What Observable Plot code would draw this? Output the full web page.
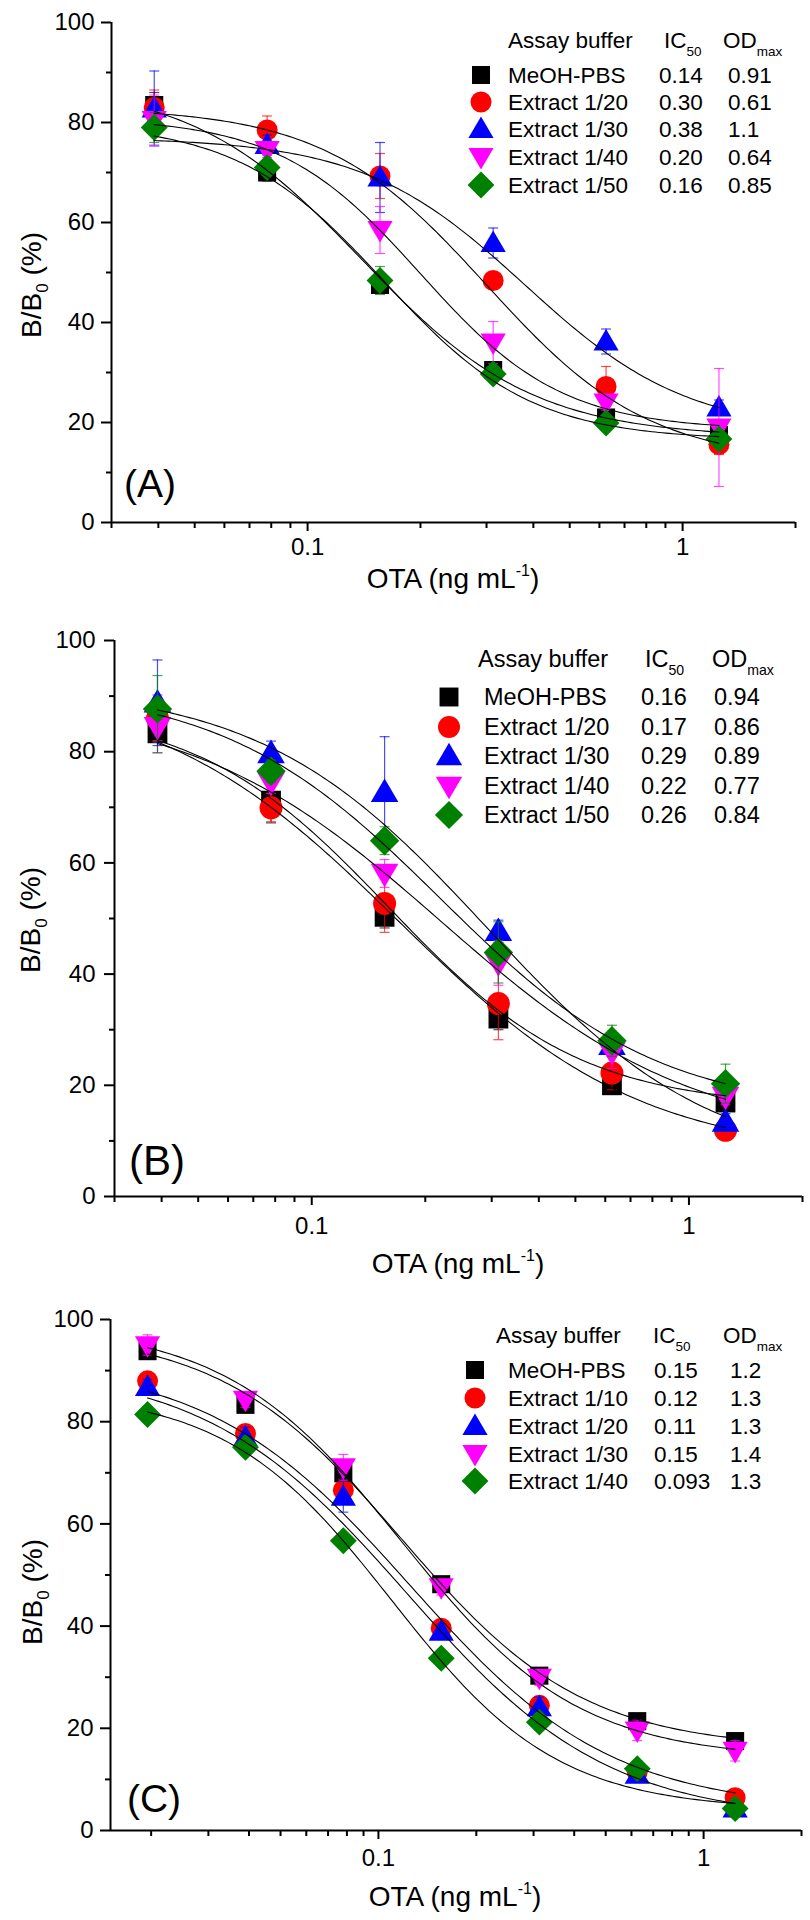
<!DOCTYPE html>
<html>
<head>
<meta charset="utf-8">
<script src="https://cdn.jsdelivr.net/npm/d3@7"></script>
<script src="https://cdn.jsdelivr.net/npm/@observablehq/plot@0.6"></script>
<style>
  html, body { margin: 0; padding: 0; background: #ffffff; }
  #fig { position: relative; width: 810px; height: 1920px; overflow: hidden; background: #ffffff; }
  .panel { position: absolute; left: 0; }
  #overlay { position: absolute; left: 0; top: 0; }
</style>
</head>
<body>
<div id="fig"></div>
<script>
const FONT = '"Liberation Sans", Arial, Helvetica, sans-serif';

// ---------- shared series styling ----------
const seriesColors = ["#000000", "#ff0000", "#0000ff", "#ff00ff", "#008000"];
const seriesSymbols = ["square", "circle", "triangle", "triangleDown", "diamond"];

// ---------- Panel A ----------
const concA = [0.039, 0.078, 0.156, 0.3125, 0.625, 1.25];
const buffersA = ["MeOH-PBS", "Extract 1/20", "Extract 1/30", "Extract 1/40", "Extract 1/50"];
const ic50A = ["0.14", "0.30", "0.38", "0.20", "0.16"];
const odmaxA = ["0.91", "0.61", "1.1", "0.64", "0.85"];
const meansA = [
  [83.5, 70.0, 47.5, 30.5, 21.0, 17.5],
  [83.0, 78.5, 69.3, 48.4, 27.2, 15.6],
  [82.8, 75.5, 69.0, 55.9, 36.2, 23.0],
  [80.5, 74.5, 58.5, 36.0, 24.0, 19.0],
  [79.0, 71.0, 48.4, 29.7, 19.9, 16.7]
];
const errorsA = [
  [2.5, 1.7, 1.5, 1.5, 1.5, 1.5],
  [3.5, 2.8, 4.5, 1.0, 4.0, 2.0],
  [7.5, 2.0, 7.0, 3.0, 2.5, 1.5],
  [5.0, 1.5, 4.7, 4.2, 1.5, 11.8],
  [3.0, 1.5, 2.8, 1.5, 1.5, 1.2]
];
// fitted 4-parameter logistic curves: [top, bottom, midpoint, slope]
const fitA = [
  [88, 17, 0.14, 1.9],
  [83, 12, 0.30, 2.0],
  [77, 18, 0.38, 2.0],
  [81, 18.5, 0.20, 2.3],
  [80, 16.5, 0.16, 2.2]
];

// ---------- Panel B ----------
const concB = [0.039, 0.078, 0.156, 0.3125, 0.625, 1.25];
const buffersB = ["MeOH-PBS", "Extract 1/20", "Extract 1/30", "Extract 1/40", "Extract 1/50"];
const ic50B = ["0.16", "0.17", "0.29", "0.22", "0.26"];
const odmaxB = ["0.94", "0.86", "0.89", "0.77", "0.84"];
const meansB = [
  [83.3, 71.2, 50.3, 32.0, 20.0, 16.9],
  [86.0, 69.9, 52.7, 34.7, 22.2, 11.9],
  [88.8, 79.7, 72.7, 47.7, 27.2, 13.4],
  [84.5, 74.5, 58.1, 42.0, 26.0, 18.0],
  [87.7, 76.5, 64.0, 43.9, 28.0, 20.3]
];
const errorsB = [
  [3.5, 4.0, 2.0, 2.0, 1.5, 1.5],
  [4.2, 2.5, 5.2, 6.5, 3.0, 1.0],
  [7.7, 2.2, 10.0, 2.0, 1.5, 1.5],
  [2.5, 2.0, 2.5, 4.0, 3.0, 1.5],
  [6.0, 2.0, 2.5, 5.5, 2.8, 3.5]
];
const fitB = [
  [88, 16, 0.16, 1.7],
  [92, 7, 0.17, 1.35],
  [92, 5, 0.29, 1.45],
  [89, 10, 0.22, 1.3],
  [92, 15, 0.22, 1.5]
];

// ---------- Panel C ----------
const concC = [0.0195, 0.039, 0.078, 0.156, 0.3125, 0.625, 1.25];
const buffersC = ["MeOH-PBS", "Extract 1/10", "Extract 1/20", "Extract 1/30", "Extract 1/40"];
const ic50C = ["0.15", "0.12", "0.11", "0.15", "0.093"];
const odmaxC = ["1.2", "1.3", "1.3", "1.4", "1.3"];
const meansC = [
  [93.8, 83.3, 69.9, 48.2, 30.3, 21.4, 17.5],
  [88.0, 77.7, 66.6, 39.6, 24.5, 11.5, 6.4],
  [86.8, 76.9, 65.3, 38.9, 24.1, 10.9, 4.3],
  [95.0, 84.3, 71.1, 47.6, 29.9, 19.6, 15.6],
  [81.4, 75.0, 56.7, 33.7, 21.2, 12.1, 4.3]
];
const errorsC = [
  [1.2, 1.5, 1.5, 1.5, 1.2, 1.2, 1.2],
  [1.5, 1.5, 1.5, 1.5, 1.5, 1.5, 1.2],
  [1.5, 2.0, 3.0, 1.5, 2.0, 1.5, 1.2],
  [2.0, 1.5, 2.5, 1.5, 1.5, 2.0, 2.0],
  [1.5, 1.5, 1.5, 1.5, 1.5, 1.5, 1.2]
];
const fitC = [
  [98, 16, 0.118, 1.55],
  [92, 4, 0.125, 1.4],
  [91, 2, 0.122, 1.4],
  [99, 14, 0.118, 1.6],
  [86, 4, 0.11, 1.7]
];

// ---------- axis ticks ----------
const yMajor = [0, 20, 40, 60, 80, 100];
const yMinor = [10, 30, 50, 70, 90];
const xMajor = [0.1, 1];
const xMinorAB = [0.03, 0.04, 0.05, 0.06, 0.07, 0.08, 0.09, 0.2, 0.3, 0.4, 0.5, 0.6, 0.7, 0.8, 0.9, 2];
const xMinorC = [0.02, 0.03, 0.04, 0.05, 0.06, 0.07, 0.08, 0.09, 0.2, 0.3, 0.4, 0.5, 0.6, 0.7, 0.8, 0.9, 2];

// ---------- symbols (size = pi r^2 from Plot) ----------
const SYM = {
  square: { draw(c, s) { const r = Math.sqrt(s / Math.PI), h = 0.86 * r; c.moveTo(-h, -h); c.lineTo(h, -h); c.lineTo(h, h); c.lineTo(-h, h); c.closePath(); } },
  circle: { draw(c, s) { const r = Math.sqrt(s / Math.PI); c.moveTo(r, 0); c.arc(0, 0, r, 0, 2 * Math.PI); c.closePath(); } },
  triangle: { draw(c, s) { const r = Math.sqrt(s / Math.PI); c.moveTo(0, -1.2 * r); c.lineTo(1.2 * r, 0.85 * r); c.lineTo(-1.2 * r, 0.85 * r); c.closePath(); } },
  triangleDown: { draw(c, s) { const r = Math.sqrt(s / Math.PI); c.moveTo(0, 1.2 * r); c.lineTo(1.2 * r, -0.85 * r); c.lineTo(-1.2 * r, -0.85 * r); c.closePath(); } },
  diamond: { draw(c, s) { const r = Math.sqrt(s / Math.PI), d = 1.28 * r; c.moveTo(0, -d); c.lineTo(d, 0); c.lineTo(0, d); c.lineTo(-d, 0); c.closePath(); } }
};
const CAP = { draw(c) { c.moveTo(-5, 0); c.lineTo(5, 0); } };

function fitCurve(xs, p) {
  const [top, bottom, mid, slope] = p;
  const x0 = xs[0], x1 = xs[xs.length - 1], n = 160;
  return d3.range(n + 1).map(i => {
    const x = x0 * Math.pow(x1 / x0, i / n);
    return { x, y: bottom + (top - bottom) / (1 + Math.pow(x / mid, slope)) };
  });
}

function makePanel(cfg) {
  const marks = [];
  marks.push(Plot.axisY({ ticks: yMajor, tickSize: 10, tickPadding: cfg.yPad, fontSize: 24, strokeWidth: 2, label: null, tickFormat: d => String(d) }));
  marks.push(Plot.axisY({ ticks: yMinor, tickSize: 5, strokeWidth: 2, label: null, tickFormat: () => "" }));
  marks.push(Plot.axisX({ ticks: xMajor, tickSize: 9, tickPadding: cfg.xPad, fontSize: 24, strokeWidth: 2, label: null, tickFormat: d => (d === 1 ? "1" : "0.1") }));
  marks.push(Plot.axisX({ ticks: cfg.xMinor, tickSize: 6, strokeWidth: 2, label: null, tickFormat: () => "" }));
  marks.push(Plot.ruleX([cfg.domain[0]], { stroke: "black", strokeWidth: 2 }));
  marks.push(Plot.ruleY([0], { stroke: "black", strokeWidth: 2 }));

  cfg.means.forEach((m, s) => {
    const rows = m.map((v, i) => ({ x: cfg.conc[i], y: v, lo: v - cfg.errs[s][i], hi: v + cfg.errs[s][i] }));
    const col = seriesColors[s];
    marks.push(Plot.dot(rows, { x: "x", y: "y", symbol: SYM[seriesSymbols[s]], r: cfg.r, fill: col, stroke: "none" }));
    marks.push(Plot.ruleX(rows, { x: "x", y1: "lo", y2: "hi", stroke: col, strokeWidth: 1.2, strokeOpacity: 0.7 }));
    marks.push(Plot.dot(rows, { x: "x", y: "lo", symbol: CAP, r: 3, fill: "none", stroke: col, strokeWidth: 1.2, strokeOpacity: 0.7 }));
    marks.push(Plot.dot(rows, { x: "x", y: "hi", symbol: CAP, r: 3, fill: "none", stroke: col, strokeWidth: 1.2, strokeOpacity: 0.7 }));
  });
  cfg.fits.forEach(p => {
    marks.push(Plot.line(fitCurve(cfg.conc, p), { x: "x", y: "y", stroke: "black", strokeWidth: 1.1 }));
  });

  const svg = Plot.plot({
    width: 810,
    height: cfg.height,
    marginTop: cfg.mt, marginBottom: cfg.mb, marginLeft: cfg.ml, marginRight: cfg.mr,
    x: { type: "log", domain: cfg.domain },
    y: { domain: [0, 100] },
    style: { fontFamily: FONT, fontSize: "24px", color: "black", background: "transparent", overflow: "visible" },
    marks
  });
  const wrap = document.createElement("div");
  wrap.className = "panel";
  wrap.style.top = cfg.top + "px";
  wrap.appendChild(svg);
  document.getElementById("fig").appendChild(wrap);
}

const panels = [
  { top: 0, height: 620, mt: 22, mb: 98, ml: 111, mr: 15, domain: [0.03, 2], xMinor: xMinorAB, conc: concA, means: meansA, errs: errorsA, fits: fitA, r: 10.5, yPad: 7, xPad: 6 },
  { top: 620, height: 650, mt: 20, mb: 74, ml: 114, mr: 8, domain: [0.03, 2], xMinor: xMinorAB, conc: concB, means: meansB, errs: errorsB, fits: fitB, r: 11.5, yPad: 9, xPad: 11 },
  { top: 1270, height: 650, mt: 49, mb: 90, ml: 110, mr: 9, domain: [0.015, 2], xMinor: xMinorC, conc: concC, means: meansC, errs: errorsC, fits: fitC, r: 10.5, yPad: 7, xPad: 9 }
];
panels.forEach(makePanel);

// ---------- overlay: titles, panel letters, legends ----------
const ov = d3.select("#fig").append("svg").attr("id", "overlay")
  .attr("width", 810).attr("height", 1920)
  .style("font-family", FONT);

function yTitle(cx, cy) {
  const t = ov.append("text").attr("transform", `translate(${cx},${cy}) rotate(-90)`)
    .attr("text-anchor", "middle").attr("font-size", 28).attr("fill", "black");
  t.append("tspan").text("B/B");
  t.append("tspan").attr("font-size", 17).attr("dy", 7).text("0");
  t.append("tspan").attr("dy", -7).text(" (%)");
}
function xTitle(cx, by) {
  const t = ov.append("text").attr("x", cx).attr("y", by)
    .attr("text-anchor", "middle").attr("font-size", 28).attr("fill", "black");
  t.append("tspan").text("OTA (ng mL");
  t.append("tspan").attr("font-size", 16).attr("dy", -12).text("-1");
  t.append("tspan").attr("dy", 12).text(")");
}
function letter(txt, cx, cy, fs) {
  ov.append("text").attr("x", cx).attr("y", cy).attr("dy", "0.36em")
    .attr("text-anchor", "middle").attr("font-size", fs).attr("fill", "black").text(txt);
}
function legend(L) {
  const g = ov.append("g").attr("font-size", L.fs).attr("fill", "black");
  g.append("text").attr("x", L.headX).attr("y", L.headY).attr("dy", "0.36em").text("Assay buffer");
  const ic = g.append("text").attr("x", L.icHeadX).attr("y", L.headY).attr("dy", "0.36em");
  ic.append("tspan").text("IC");
  ic.append("tspan").attr("font-size", L.fs * 0.6).attr("dy", 8).text("50");
  const od = g.append("text").attr("x", L.odHeadX).attr("y", L.headY).attr("dy", "0.36em");
  od.append("tspan").text("OD");
  od.append("tspan").attr("font-size", L.fs * 0.6).attr("dy", 8).text("max");
  L.names.forEach((name, i) => {
    const y = L.rows[i];
    const p = d3.path();
    SYM[seriesSymbols[i]].draw(p, Math.PI * L.r * L.r);
    g.append("path").attr("d", p.toString()).attr("transform", `translate(${L.mx},${y})`).attr("fill", seriesColors[i]);
    g.append("text").attr("x", L.tx).attr("y", y).attr("dy", "0.36em").text(name);
    g.append("text").attr("x", L.icx).attr("y", y).attr("dy", "0.36em").text(L.ic[i]);
    g.append("text").attr("x", L.odx).attr("y", y).attr("dy", "0.36em").text(L.od[i]);
  });
}

// Panel A texts
yTitle(41, 285);
xTitle(453, 588);
letter("(A)", 150, 483, 39);
legend({ fs: 22.5, r: 10.5, headX: 508, icHeadX: 664, odHeadX: 723, headY: 40, rows: [75, 102, 129, 157, 185],
  mx: 481, tx: 508, icx: 659, odx: 728, names: buffersA, ic: ic50A, od: odmaxA });

// Panel B texts
yTitle(40, 920);
xTitle(458, 1273);
letter("(B)", 157, 1160, 42);
legend({ fs: 23.5, r: 11, headX: 478, icHeadX: 645, odHeadX: 712, headY: 659, rows: [697, 727, 756, 786, 815],
  mx: 449, tx: 484, icx: 641, odx: 714, names: buffersB, ic: ic50B, od: odmaxB });

// Panel C texts
yTitle(42, 1592);
xTitle(455, 1906);
letter("(C)", 154, 1798, 39);
legend({ fs: 22.5, r: 10.5, headX: 496, icHeadX: 653, odHeadX: 723, headY: 1335, rows: [1370, 1398, 1426, 1454, 1481],
  mx: 475, tx: 508, icx: 654, odx: 730, names: buffersC, ic: ic50C, od: odmaxC });
</script>
</body>
</html>
